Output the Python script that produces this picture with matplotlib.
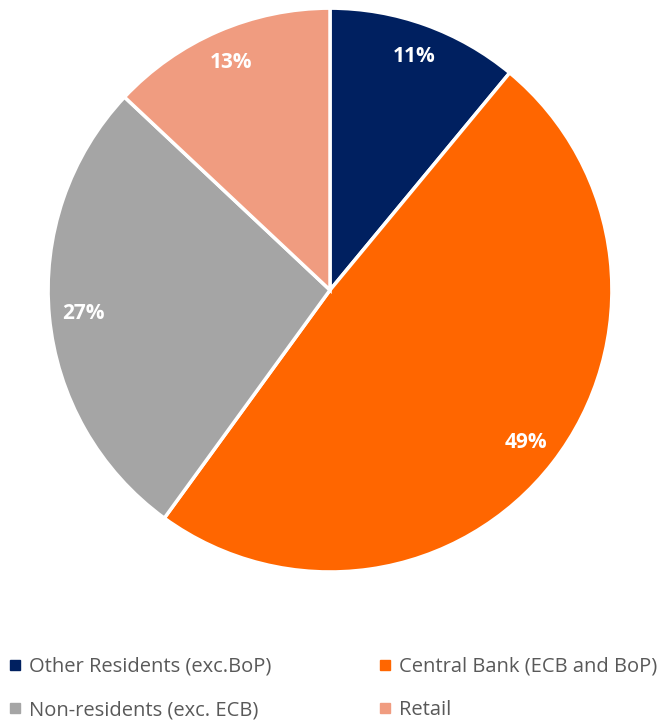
import matplotlib.pyplot as plt
from matplotlib.lines import Line2D

# Holders of public debt, share of total
labels = ['Other Residents (exc.BoP)', 'Central Bank (ECB and BoP)',
          'Non-residents (exc. ECB)', 'Retail']
shares = [11, 49, 27, 13]
colors = ['#002060', '#FF6600', '#A5A5A5', '#F09C80']

plt.rcParams['font.family'] = ['Open Sans', 'DejaVu Sans']

fig = plt.figure(figsize=(6.66, 7.21), dpi=100)
ax = fig.add_axes([0.072, 0.2067, 0.847, 0.782])

wedges, texts, autotexts = ax.pie(
    shares, colors=colors, startangle=90, counterclock=False,
    autopct='%d%%', pctdistance=0.88,
    wedgeprops=dict(edgecolor='white', linewidth=2.5))
for t in autotexts:
    t.set_color('white')
    t.set_fontweight('bold')
    t.set_fontsize(15)
ax.set_xlim(-1, 1)
ax.set_ylim(-1, 1)
ax.set_aspect('equal')

# legend filled row by row: two entries per row
order = [0, 2, 1, 3]
handles = [Line2D([], [], marker='s', linestyle='', markersize=7,
                  markerfacecolor=colors[i], markeredgecolor=colors[i])
           for i in order]
leg = fig.legend(handles, [labels[i] for i in order], ncol=2,
                 loc='upper left', bbox_to_anchor=(-0.016, 0.114),
                 frameon=False, fontsize=14.5, handlelength=0.7,
                 handletextpad=0.35, columnspacing=5.3, labelspacing=1.16,
                 labelcolor='#595959')

fig.savefig('out.png', dpi=100)
